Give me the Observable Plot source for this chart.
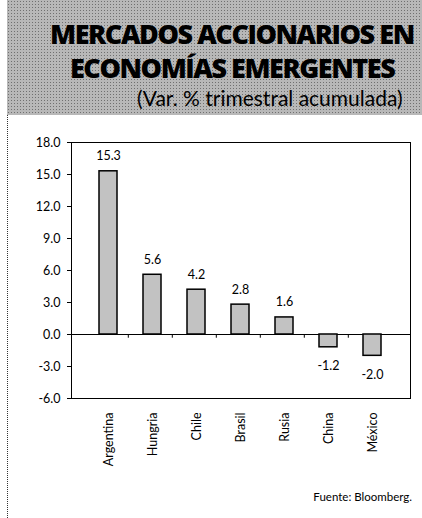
<!DOCTYPE html>
<html><head><meta charset="utf-8">
<script src="https://cdn.jsdelivr.net/npm/d3@7"></script>
<script src="https://cdn.jsdelivr.net/npm/@observablehq/plot@0.6"></script>
<style>
body{margin:0;background:#fff;}
#wrap{position:relative;width:422px;height:518px;overflow:hidden;font-family:Lato,"Open Sans",sans-serif;}
#banner{position:absolute;left:7px;top:0;width:415px;height:115px;background:#b8b8b8;
 background-image:radial-gradient(#707070 0.7px, transparent 0.9px);background-size:3px 3px;}
#t1,#t2{position:absolute;white-space:nowrap;font-family:"Open Sans",sans-serif;font-weight:800;font-size:27px;line-height:24px;color:#000;letter-spacing:-1.45px;}
#t1{left:50px;top:22px;} #t2{left:70px;top:56px;}
#sub{position:absolute;white-space:nowrap;left:137px;top:87px;font-size:21px;line-height:21px;color:#000;letter-spacing:0px;}
#vline{position:absolute;left:7px;top:115px;width:0;height:403px;border-left:1.5px dotted #333;}
#chart{position:absolute;left:0;top:115px;}
#cap{position:absolute;right:10px;top:490px;font-size:11.5px;color:#000;}
</style></head>
<body><div id="wrap">
<div id="banner"></div>
<div id="t1">MERCADOS ACCIONARIOS EN</div>
<div id="t2">ECONOMÍAS EMERGENTES</div>
<div id="sub">(Var. % trimestral acumulada)</div>
<div id="vline"></div>
<div id="chart"></div>
<div id="cap">Fuente: Bloomberg.</div>
</div>
<script>
const countries = ["Argentina","Hungria","Chile","Brasil","Rusia","China","México"];
const values = [15.3, 5.6, 4.2, 2.8, 1.6, -1.2, -2.0];
const yTicks = [-6, -3, 0, 3, 6, 9, 12, 15, 18];
const data = countries.map((c,i)=>({c, v: values[i]}));
const pos = data.filter(d => d.v >= 0), neg = data.filter(d => d.v < 0);

const chart = Plot.plot({
  width: 422, height: 403,
  marginLeft: 71, marginRight: 12, marginTop: 27, marginBottom: 120,
  style: {fontFamily: "Lato, 'Open Sans', sans-serif", fontSize: "12px", color: "#000", background: "transparent"},
  x: {domain: countries, padding: 0.59, label: null},
  y: {domain: [-6, 18], ticks: yTicks, label: null},
  marks: [
    Plot.frame({stroke: "#000", strokeWidth: 1}),
    Plot.axisY({ticks: yTicks, tickFormat: d => d.toFixed(1), tickSize: 4, tickPadding: 7, fontSize: 12.5, label: null}),
    Plot.axisX({tickSize: 0, tickRotate: -90, tickPadding: 14, fontSize: 12.5, label: null}),
    Plot.ruleX(countries.slice(1), {x: d => d, dx: -24.2, y1: 0, y2: -0.35, stroke: "#000"}),
    Plot.ruleY([0], {stroke: "#000", strokeWidth: 1.2}),
    Plot.barY(data, {x: "c", y: "v", fill: "#c2c2c2", stroke: "#000", strokeWidth: 1.5}),
    Plot.text(pos, {x: "c", y: "v", text: d => d.v.toFixed(1), dy: -15, fontSize: 12.5}),
    Plot.text(neg, {x: "c", y: "v", text: d => d.v.toFixed(1), dy: 19, fontSize: 12.5})
  ]
});
document.getElementById("chart").appendChild(chart);
</script>
</body></html>
